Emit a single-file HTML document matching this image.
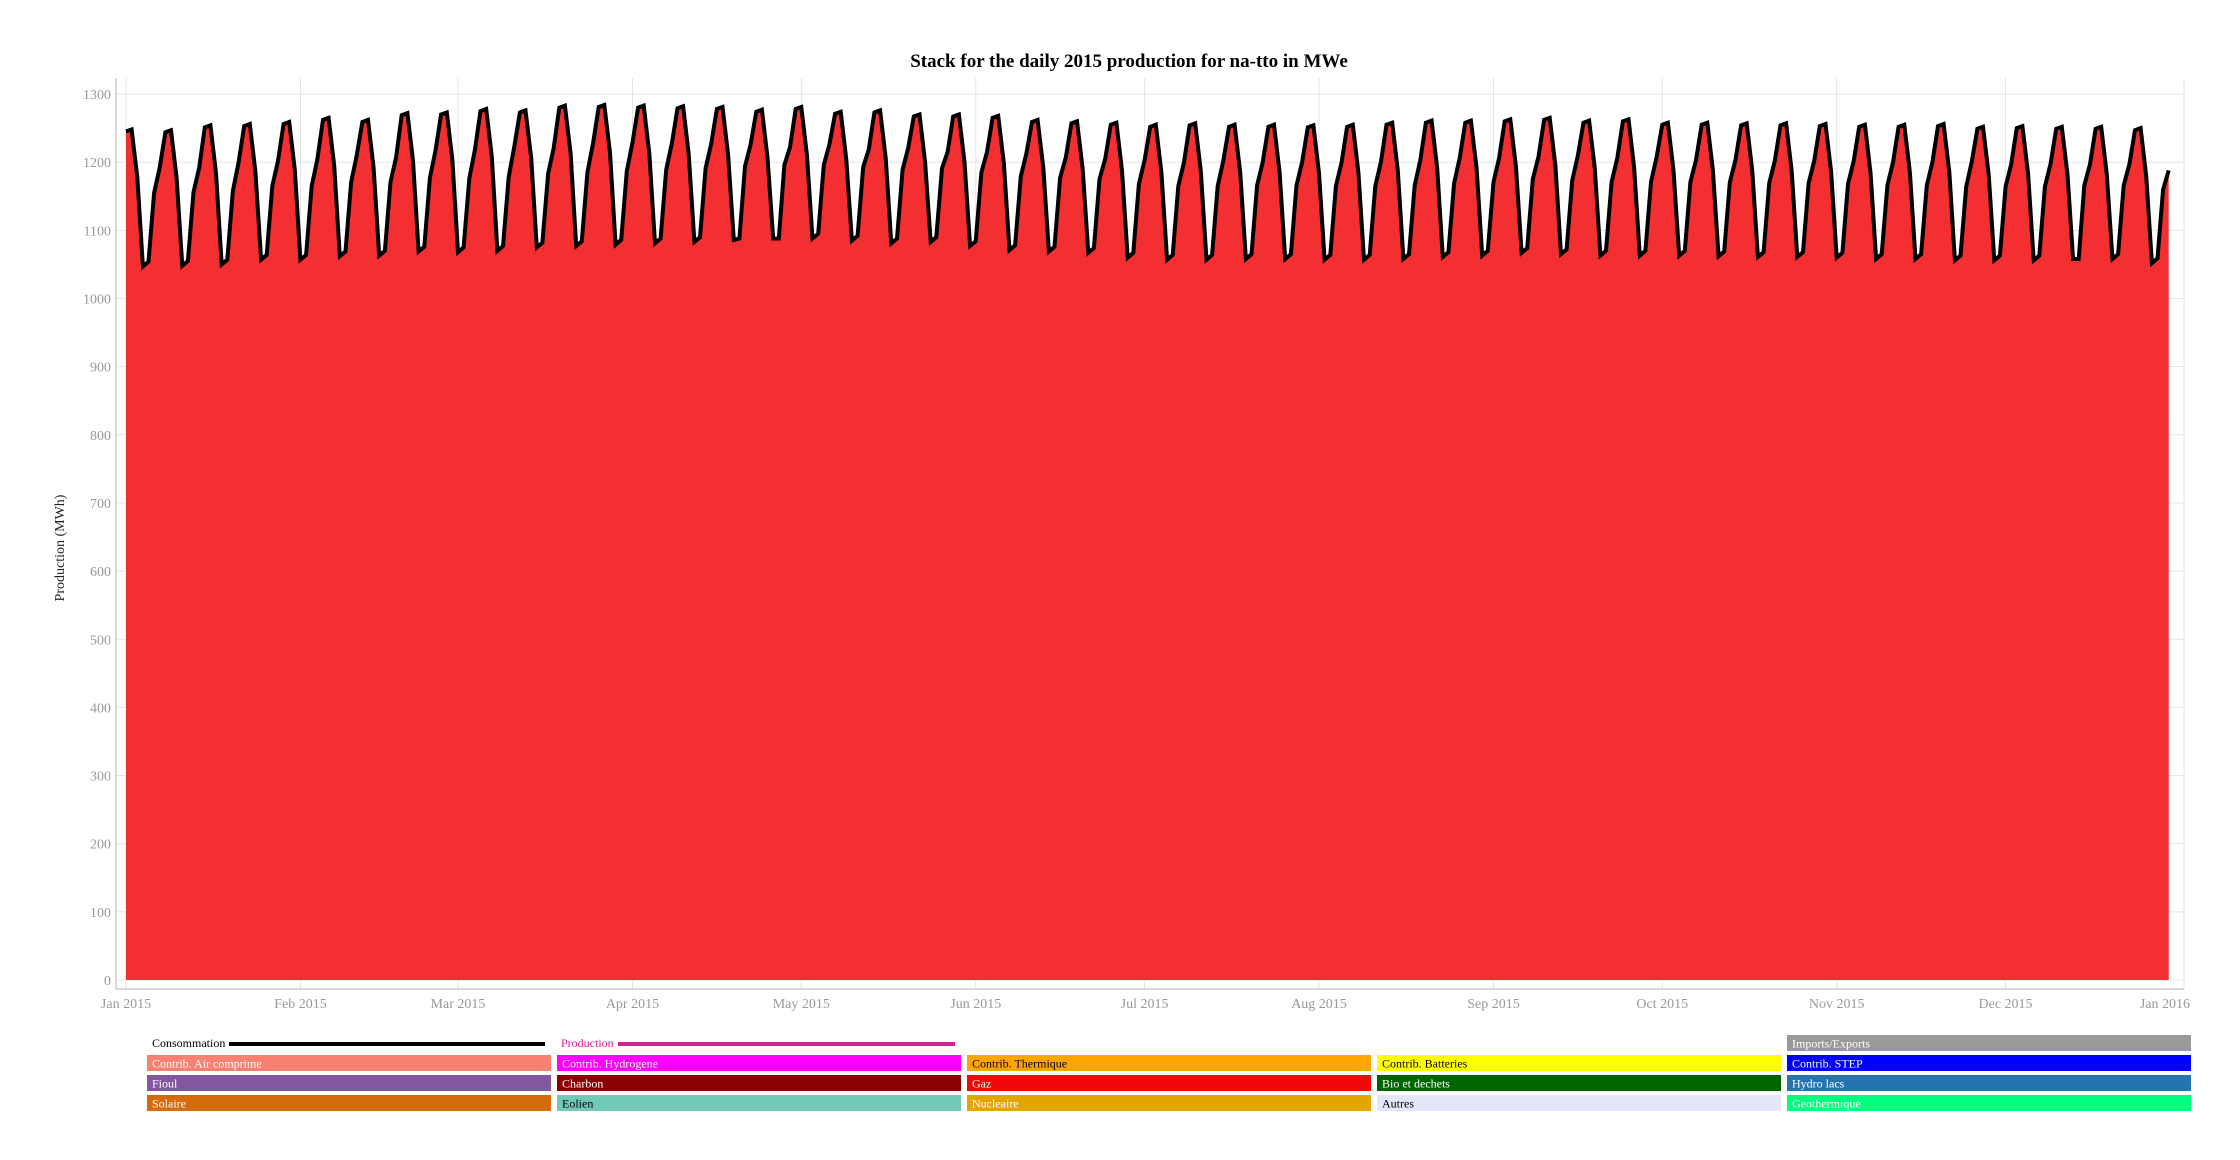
<!DOCTYPE html>
<html><head><meta charset="utf-8"><style>
html,body{margin:0;padding:0;background:#fff;}
svg{display:block;font-family:"Liberation Serif",serif;}
</style></head><body>
<svg id="chart" width="2240" height="1160" viewBox="0 0 2240 1160">
<text x="1129" y="67" text-anchor="middle" font-size="19" font-weight="bold" fill="#000">Stack for the daily 2015 production for na-tto in MWe</text>
<text transform="translate(64,548) rotate(-90)" text-anchor="middle" font-size="14" fill="#222">Production (MWh)</text>
<g id="grid"></g>
<g id="marks"></g>
<g id="axes"></g>
<g id="legend"></g>
</svg>
<script>
const yTicks = [0,100,200,300,400,500,600,700,800,900,1000,1100,1200,1300];
const monthLabels = ["Jan 2015","Feb 2015","Mar 2015","Apr 2015","May 2015","Jun 2015","Jul 2015","Aug 2015","Sep 2015","Oct 2015","Nov 2015","Dec 2015","Jan 2016"];
const monthDays = [0,31,59,90,120,151,181,212,243,273,304,334,365];
const production = [
1245,1248,1178,1047,1054,1155,1193,
1244,1247,1177,1048,1055,1156,1192,
1251,1254,1184,1050,1057,1158,1199,
1253,1256,1186,1057,1064,1165,1201,
1256,1259,1189,1057,1064,1165,1204,
1262,1265,1195,1062,1069,1170,1210,
1259,1262,1192,1063,1070,1171,1207,
1269,1272,1202,1069,1076,1177,1217,
1270,1273,1203,1068,1075,1176,1218,
1275,1278,1208,1070,1077,1178,1223,
1273,1276,1206,1075,1082,1183,1221,
1280,1283,1213,1077,1084,1185,1228,
1281,1284,1214,1079,1086,1187,1229,
1280,1283,1213,1081,1088,1189,1228,
1279,1282,1212,1083,1090,1191,1227,
1278,1281,1211,1086,1088,1194,1226,
1274,1277,1207,1088,1088,1196,1222,
1278,1281,1211,1088,1095,1196,1226,
1271,1274,1204,1085,1092,1193,1219,
1273,1276,1206,1081,1088,1189,1221,
1267,1270,1200,1083,1090,1191,1215,
1267,1270,1200,1077,1084,1185,1215,
1265,1268,1198,1071,1078,1179,1213,
1259,1262,1192,1069,1076,1177,1207,
1257,1260,1190,1067,1074,1175,1205,
1255,1258,1188,1060,1067,1168,1203,
1252,1255,1185,1057,1064,1165,1200,
1254,1257,1187,1057,1064,1165,1202,
1252,1255,1185,1058,1065,1166,1200,
1252,1255,1185,1058,1065,1166,1200,
1251,1254,1184,1057,1064,1165,1199,
1252,1255,1185,1057,1064,1165,1200,
1255,1258,1188,1058,1065,1166,1203,
1258,1261,1191,1061,1068,1169,1206,
1258,1261,1191,1063,1070,1171,1206,
1260,1263,1193,1067,1074,1175,1208,
1262,1265,1195,1065,1072,1173,1210,
1258,1261,1191,1063,1070,1171,1206,
1260,1263,1193,1063,1070,1171,1208,
1255,1258,1188,1063,1070,1171,1203,
1255,1258,1188,1062,1069,1170,1203,
1254,1257,1187,1061,1068,1169,1202,
1254,1257,1187,1061,1068,1169,1202,
1253,1256,1186,1060,1067,1168,1201,
1252,1255,1185,1058,1065,1166,1200,
1252,1255,1185,1058,1065,1166,1200,
1253,1256,1186,1056,1063,1164,1201,
1249,1252,1182,1056,1063,1164,1197,
1250,1253,1183,1056,1063,1164,1198,
1249,1252,1182,1058,1058,1166,1197,
1249,1252,1182,1058,1065,1166,1197,
1247,1250,1180,1052,1059,1160,1188
];
const consumption = production.slice();
const legendNames = ["Imports/Exports","Contrib. Air comprime","Contrib. Hydrogene","Contrib. Thermique","Contrib. Batteries","Contrib. STEP","Fioul","Charbon","Gaz","Bio et dechets","Hydro lacs","Solaire","Eolien","Nucleaire","Autres","Geothermique"];
const legendColors = ["#999999","#fa8072","#ff00ff","#ffa500","#ffff00","#0000ff","#8256a0","#8b0000","#f20809","#006400","#2574b0","#d66b0d","#72cab6","#e3a600","#e6e6fa","#00ff7f"];
const legendTextColors = ["#fff","#fff","#fff","#000","#000","#fff","#fff","#fff","#fff","#fff","#fff","#fff","#000","#fff","#000","#fff"];
const legendCols = [4,0,1,2,3,4,0,1,2,3,4,0,1,2,3,4];
const legendRows = [0,1,1,1,1,1,2,2,2,2,2,3,3,3,3,3];

const NS="http://www.w3.org/2000/svg";
const X0=126, X1=2180, Y0=980, YK=0.6815, XR=2184;
function xScale(d){return X0+d*(X1-X0)/365;}
function yScale(v){return Y0-v*YK;}
function mk(tag,attrs,parent){const e=document.createElementNS(NS,tag);for(const k in attrs)e.setAttribute(k,attrs[k]);parent.appendChild(e);return e;}
const grid=document.getElementById('grid'),marks=document.getElementById('marks'),axes=document.getElementById('axes'),legend=document.getElementById('legend');

yTicks.forEach(v=>{
  const l=mk('line',{x1:116,x2:XR,y1:yScale(v),y2:yScale(v),stroke:'#e4e4e4','stroke-width':1},grid);
  
  
  const t=mk('text',{x:111,y:yScale(v)+5,'text-anchor':'end','font-size':14,fill:'#999'},axes);
  t.textContent=v;
  
  
});
monthDays.forEach((d,i)=>{
  const last = i===monthDays.length-1;
  if(!last){
    const l=mk('line',{x1:xScale(d),x2:xScale(d),y1:78,y2:989,stroke:'#e4e4e4','stroke-width':1},grid);
    
    
  }
  const t=mk('text',{x:last?2190:xScale(d),y:1008,'text-anchor':last?'end':'middle','font-size':14,fill:'#999'},axes);
  t.textContent=monthLabels[i];
  
  
});
const rb=mk('line',{x1:XR,x2:XR,y1:78,y2:989,stroke:'#e4e4e4','stroke-width':1},grid);


const ax=mk('line',{x1:116,x2:116,y1:78,y2:989,stroke:'#ccc','stroke-width':1.5},axes);


const bx=mk('line',{x1:116,x2:XR,y1:989,y2:989,stroke:'#ccc','stroke-width':1.5},axes);



let pts=production.map((v,i)=>xScale(i).toFixed(1)+','+yScale(v).toFixed(1));
const area=mk('polygon',{points:xScale(0)+','+Y0+' '+pts.join(' ')+' '+xScale(production.length-1)+','+Y0,fill:'#f42f31'},marks);


const cl=mk('polyline',{points:consumption.map((v,i)=>xScale(i).toFixed(1)+','+yScale(v).toFixed(1)).join(' '),fill:'none',stroke:'#000','stroke-width':4,'stroke-linejoin':'miter'},marks);



const c1=mk('text',{x:152,y:1047,'font-size':12,fill:'#000'},legend);
c1.textContent='Consommation';


const c1l=mk('line',{x1:229,x2:545,y1:1044,y2:1044,stroke:'#000','stroke-width':4},legend);


const p1=mk('text',{x:561,y:1047,'font-size':12,fill:'#d0209a'},legend);
p1.textContent='Production';


const p1l=mk('line',{x1:618,x2:955,y1:1044,y2:1044,stroke:'#d0209a','stroke-width':4},legend);



const colX=[147,557,967,1377,1787], rowY=[1035,1055,1075,1095];
legendNames.forEach((n,i)=>{
  const g=mk('g',{},legend);
  
  
  mk('rect',{x:colX[legendCols[i]],y:rowY[legendRows[i]],width:404,height:16,fill:legendColors[i]},g);
  const t=mk('text',{x:colX[legendCols[i]]+5,y:rowY[legendRows[i]]+12.5,'font-size':12,fill:legendTextColors[i]},g);
  t.textContent=n;
});
</script>
</body></html>
